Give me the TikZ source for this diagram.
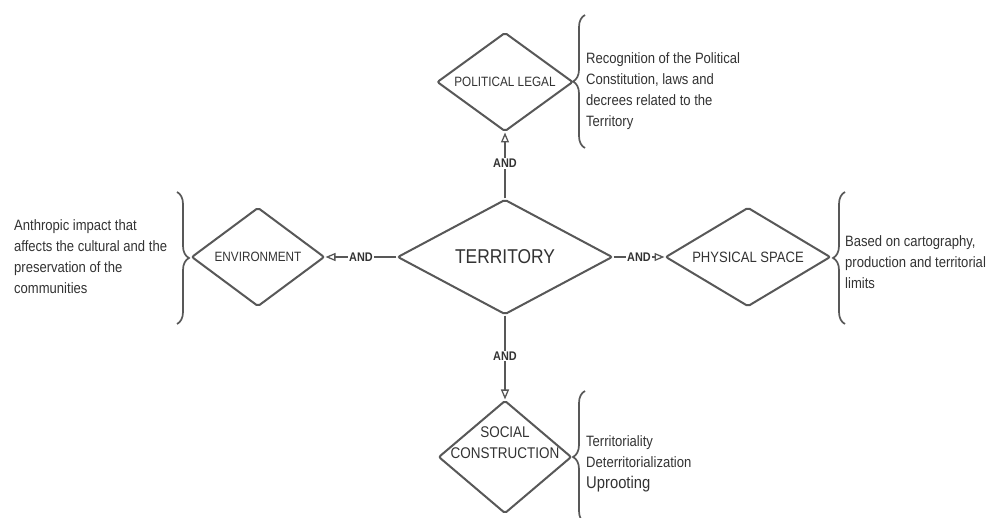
\documentclass[tikz,border=0pt]{standalone}
\usepackage{fontspec}
\setmainfont{Liberation Sans}[FakeStretch=0.87]
\usepackage{tikz}
\usetikzlibrary{shapes.geometric,arrows.meta,decorations.pathreplacing}
\definecolor{linegray}{HTML}{585858}
\definecolor{textgray}{HTML}{333333}
\tikzset{
  choice/.style={diamond, draw=linegray, line width=2pt, rounded corners=2pt, inner sep=-8pt, aspect=1, text=textgray, align=center, font=\fontsize{13.5}{20.5}\selectfont},
  link/.style={draw=linegray, line width=1.3pt, -{Triangle[open, length=10pt, width=8pt]}},
  andlabel/.style={fill=white, inner sep=1pt, text=textgray, font=\fontsize{12.5}{14}\selectfont\bfseries},
  notebrace/.style={draw=linegray, line width=1.7pt, decorate, decoration={brace, amplitude=12pt}},
  notetext/.style={anchor=north west, inner sep=0pt, align=left, text=textgray, font=\fontsize{15}{21}\selectfont}
}
\newcommand{\choicenode}[6][] {\node at (#2) (#3) [choice, minimum width=#5pt, minimum height=#6pt, #1] {#4};}
\newcommand{\andtransition}[3] {\draw [link] (#1) -- (#2) node [andlabel, pos=#3] {AND};}
\newcommand{\notebrace}[2] {\draw [notebrace] (#1) -- (#2);}
\newcommand{\notetext}[3] {\node at (#1) (#2) [notetext] {#3};}

\begin{document}
\begin{tikzpicture}[x=1pt, y=-1pt]
\fill [white] (0,0) rectangle (991,518);
\clip (0,0) rectangle (991,518);

\choicenode[font=\fontsize{20}{24}\selectfont] {505,257} {terr} {TERRITORY} {215} {115};
\choicenode {505,82}  {pol}  {POLITICAL LEGAL} {136} {99};
\choicenode {258,257} {env}  {ENVIRONMENT} {133} {99};
\choicenode[font=\fontsize{15}{21}\selectfont] {748,257} {phys} {PHYSICAL SPACE} {165} {99};
\choicenode[font=\fontsize{15.5}{21}\selectfont, text depth=29pt, inner sep=-25pt] {505,457} {soc} {SOCIAL\\CONSTRUCTION} {133} {113};

\andtransition{terr}{pol}{0.53};
\andtransition{terr}{env}{0.5};
\andtransition{terr}{phys}{0.5};
\andtransition{terr}{soc}{0.48};

\notebrace{585,148}{585,15};
\notebrace{177,192}{177,324};
\notebrace{845,324}{845,192};
\notebrace{585,523}{585,391};

\notetext{586,52}{polnote}{Recognition of the Political\\Constitution, laws and\\decrees related to the\\Territory};
\notetext{14,219}{envnote}{Anthropic impact that\\affects the cultural and the\\preservation of the\\communities};
\notetext{845,235}{physnote}{Based on cartography,\\production and territorial\\limits};
\notetext{586,435}{socnote}{Territoriality\\Deterritorialization\\{\fontsize{17}{22}\selectfont Uprooting}};
%\andtransition{pol}{soc}{0.5};

\end{tikzpicture}
\end{document}
